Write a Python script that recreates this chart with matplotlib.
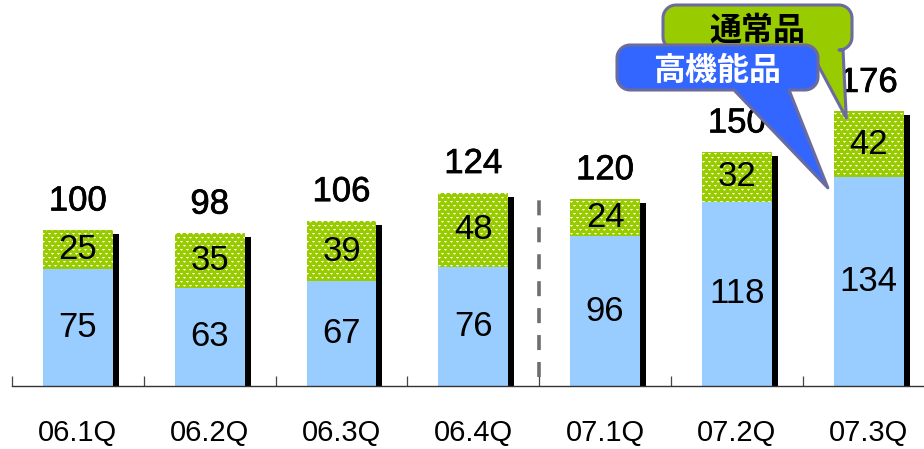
import numpy as np
import matplotlib
matplotlib.use("Agg")
import matplotlib.pyplot as plt
from matplotlib.path import Path
from matplotlib.patches import Polygon
import matplotlib.patheffects as pe

# Quarterly volumes: high-performance products (bottom) and regular products (top)
categories = ["06.1Q", "06.2Q", "06.3Q", "06.4Q", "07.1Q", "07.2Q", "07.3Q"]
high_perf = [75, 63, 67, 76, 96, 118, 134]
regular = [25, 35, 39, 48, 24, 32, 42]
totals = [100, 98, 106, 124, 120, 150, 176]
legend_regular = "通常品"
legend_high = "高機能品"

BLUE = "#99CCFF"
GREEN = "#99CC00"
OUTLINE = "#6B6B9E"

W, H, DPI = 924, 449, 100
AX_L, AX_B, AX_W, AX_H = 12, 63, 912, 386
CAT_PX = 131.8

plt.rcParams["font.family"] = ["Liberation Sans", "DejaVu Sans"]
plt.rcParams["lines.scale_dashes"] = False
fig = plt.figure(figsize=(W / DPI, H / DPI), dpi=DPI)
ax = fig.add_axes([AX_L / W, AX_B / H, AX_W / W, AX_H / H])

x = np.arange(len(categories))
bw = 0.53
ymax = 247.4
XLIM = (-0.5, -0.5 + AX_W / CAT_PX)

# axis styling (ticks first, so the view limits set afterwards stick)
for s in ("top", "right", "left"):
    ax.spines[s].set_visible(False)
ax.spines["bottom"].set_color("#333333")
ax.spines["bottom"].set_linewidth(1.0)
ax.set_yticks([])
ax.set_xticks(x)
ax.set_xticklabels(categories, fontsize=21)
ax.tick_params(axis="x", which="major", length=0, pad=24)
ax.set_xticks(np.arange(-0.5, XLIM[1], 1.0), minor=True)
ax.tick_params(axis="x", which="minor", direction="in", length=7, width=0.9,
               color="#444444")
ax.set_xlim(*XLIM)
ax.set_ylim(0, ymax)

px_x = (XLIM[1] - XLIM[0]) / AX_W   # data units per pixel
px_y = ymax / AX_H

# drop shadow on the right side of each stack
ax.bar(x + bw / 2, np.array(totals) - 4 * px_y, width=6 * px_x, align="edge",
       color="black", zorder=1)

bars_hp = ax.bar(x, high_perf, width=bw, color=BLUE, zorder=2)
bars_rg = ax.bar(x, regular, width=bw, bottom=high_perf, color=GREEN, zorder=2)

# dotted texture on the regular-product segments
tex = np.zeros((AX_H, AX_W, 4))
tex[..., :3] = matplotlib.colors.to_rgb(GREEN)
tex[..., 3] = 1.0
rows = np.arange(AX_H)[:, None]
cols = np.arange(AX_W)[None, :]
shift = np.where((rows // 4) % 2 == 1, 3, 0)
k = (cols + shift) % 6
main = (rows % 4 == 1)
halo = (rows % 4 == 2) & (k == 1)
tex[..., :3][np.broadcast_to(main & (k == 1), (AX_H, AX_W))] = (0.98, 1.0, 0.92)
tex[..., :3][np.broadcast_to(main & ((k == 0) | (k == 2)), (AX_H, AX_W))] = (0.88, 0.95, 0.68)
tex[..., :3][np.broadcast_to(halo, (AX_H, AX_W))] = (0.82, 0.91, 0.52)
im = ax.imshow(tex, extent=(*XLIM, 0, ymax), origin="upper",
               interpolation="nearest", aspect="auto", zorder=2.5)
clip = Path.make_compound_path(*[b.get_patch_transform().transform_path(b.get_path())
                                 for b in bars_rg])
im.set_clip_path(clip, ax.transData)
ax.set_xlim(*XLIM)
ax.set_ylim(0, ymax)

# segment values and totals
for i in x:
    ax.text(i, high_perf[i] / 2, str(high_perf[i]), ha="center", va="center",
            fontsize=25, zorder=4)
    ax.text(i, high_perf[i] + regular[i] / 2, str(regular[i]), ha="center",
            va="center", fontsize=25, zorder=4)
    ax.annotate(str(totals[i]), (i, totals[i]), xytext=(0, 9),
                textcoords="offset points", ha="center", va="bottom",
                fontsize=25, zorder=4,
                path_effects=[pe.withStroke(linewidth=0.5, foreground="black")])

# separator between 2006 and 2007
ax.plot([3.5, 3.5], [6, 124.5], color="#6E6E6E", linewidth=2.6,
        dashes=(10.8, 8.6), zorder=3)


def to_axes_px(xd, yd):
    fx, fy = ax.transAxes.inverted().transform(ax.transData.transform((xd, yd)))
    return fx * AX_W, fy * AX_H


def callout(x0, y0, x1, y1, r, base_a, base_b, tip, face, text, tcolor, z):
    verts = [(base_a, y0), tip, (base_b, y0)]
    def arc(cx, cy, a0, a1):
        t = np.radians(np.linspace(a0, a1, 12))
        return list(zip(cx + r * np.cos(t), cy + r * np.sin(t)))
    verts += arc(x1 - r, y0 + r, -90, 0)
    verts += arc(x1 - r, y1 - r, 0, 90)
    verts += arc(x0 + r, y1 - r, 90, 180)
    verts += arc(x0 + r, y0 + r, 180, 270)
    verts = [(vx / AX_W, vy / AX_H) for vx, vy in verts]
    ax.add_patch(Polygon(verts, closed=True, facecolor=face, edgecolor=OUTLINE,
                         linewidth=2.2, transform=ax.transAxes, clip_on=False,
                         zorder=z, joinstyle="round"))
    ax.text((x0 + x1) / 2 / AX_W, ((y0 + y1) / 2 - 3) / AX_H, text,
            transform=ax.transAxes, ha="center", va="center", fontsize=23,
            fontweight="bold", color=tcolor, zorder=z + 0.1,
            family=["Noto Sans CJK JP", "DejaVu Sans"])


last = len(categories) - 1
tip_rg = to_axes_px(last - 0.17, high_perf[last] + regular[last] * 0.9)
tip_hp = to_axes_px(last - 0.31, high_perf[last] - 7)
callout(651, 336, 840, 381, 13, 798, 831, tip_rg, GREEN, legend_regular, "black", 6)
callout(605, 296, 806, 341, 13, 722, 777, tip_hp, "#3366FF", legend_high, "white", 7)

fig.savefig("out.png", dpi=DPI)
